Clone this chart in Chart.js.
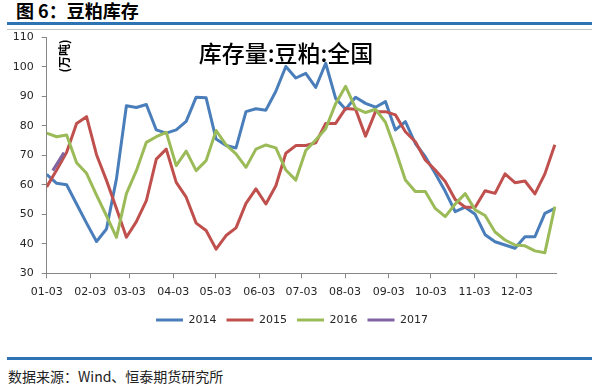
<!DOCTYPE html>
<html>
<head>
<meta charset="utf-8">
<script src="https://cdn.jsdelivr.net/npm/chart.js@4.4.0/dist/chart.umd.min.js"></script>
<style>
  html, body { margin: 0; padding: 0; background: #fff; }
  #page { position: relative; width: 592px; height: 385px; overflow: hidden; font-family: "Noto Sans CJK SC", sans-serif; }
  #chartBox { position: absolute; left: 0; top: 0; width: 592px; height: 350px; }
  .bar { position: absolute; left: 7px; right: 0; }
  .abs { position: absolute; white-space: nowrap; }
  #head { left: 16px; top: 0px; font-size: 18px; line-height: 20px; font-weight: bold; color: #000; }
  #plotTitle { left: 286px; top: 52px; transform: translate(-50%, -50%); font-size: 23px; font-weight: 500; color: #000; }
  #unit { left: 63px; top: 56px; transform: translate(-50%, -50%) rotate(-90deg); font-size: 12px; font-weight: bold; color: #000; }
  #source { left: 8px; top: 376px; transform: translateY(-50%); font-size: 14px; color: #222; }
</style>
</head>
<body>
<div id="page">
  <div class="abs" id="head">图 6：豆粕库存</div>
  <div class="bar" style="top:22px;height:3px;background:#2e74b5;"></div>
  <div class="bar" style="top:29px;height:1px;background:#c4c4c4;"></div>
  <div id="chartBox"><canvas id="stockChart" width="592" height="350"></canvas></div>
  <div class="abs" id="plotTitle">库存量:豆粕:全国</div>
  <div class="abs" id="unit">(万吨)</div>
  <div class="bar" style="top:357px;height:3px;background:#2e74b5;"></div>
  <div class="abs" id="source">数据来源：Wind、恒泰期货研究所</div>
</div>
<script>
// month ticks, in days counted from 01-03
const monthDays = [0, 31, 59, 90, 120, 151, 181, 212, 243, 273, 304, 334];
const monthLabels = ['01-03', '02-03', '03-03', '04-03', '05-03', '06-03',
                     '07-03', '08-03', '09-03', '10-03', '11-03', '12-03'];
const WEEK = 7.08; // weekly samples

const stock2014 = [63.5, 60.5, 60.0, 53.5, 47.0, 40.8, 45.0, 62.0, 86.8, 86.2,
                   87.2, 78.6, 77.5, 78.6, 81.5, 89.7, 89.5, 75.5, 73.3, 72.5,
                   84.8, 85.8, 85.3, 91.7, 100.1, 96.2, 97.8, 93.0, 101.2, 89.3,
                   85.6, 89.7, 87.6, 86.3, 88.2, 78.6, 81.4, 74.0, 69.5, 63.8,
                   57.8, 50.9, 52.4, 50.0, 43.1, 40.7, 39.6, 38.5, 42.4, 42.4,
                   50.3, 52.0];
const stock2015 = [59.3, 65.0, 71.0, 80.8, 83.1, 70.2, 61.5, 52.0, 42.2, 47.5,
                   54.6, 68.7, 72.1, 60.8, 55.8, 47.0, 44.5, 38.2, 42.8, 45.4,
                   53.7, 58.6, 53.5, 59.7, 70.7, 73.3, 73.3, 74.2, 80.8, 80.8,
                   85.9, 85.6, 76.5, 84.8, 84.8, 83.7, 78.0, 74.6, 68.4, 65.0,
                   61.1, 55.0, 52.4, 52.4, 58.0, 57.1, 63.7, 60.7, 61.3, 56.9,
                   63.7, 73.6];
const stock2016 = [77.5, 76.3, 76.9, 67.5, 63.9, 56.5, 49.5, 42.2, 57.0, 64.8,
                   74.4, 76.3, 77.8, 66.5, 71.4, 64.8, 68.2, 78.4, 73.5, 70.5,
                   65.9, 72.1, 73.5, 72.5, 65.0, 61.6, 71.6, 75.2, 79.0, 87.5,
                   93.4, 86.0, 84.5, 85.6, 81.2, 71.8, 61.6, 57.7, 57.7, 52.0,
                   49.2, 53.5, 57.0, 51.5, 49.6, 44.0, 41.3, 39.6, 39.3, 37.6,
                   37.0, 52.6];
const stock2017 = [64.8, 70.9];
const days2017 = [4.3, 12.3];

const toPoints = (vals, days) => vals.map((v, i) => ({ x: days ? days[i] : i * WEEK, y: v }));

function lineSet(label, data, color, order) {
  return {
    label, data, order,
    borderColor: color,
    backgroundColor: color,
    borderWidth: 3,
    pointRadius: 0,
    tension: 0,
    borderJoinStyle: 'round'
  };
}

const axisColor = '#868686';
const tickText = '#262626';

new Chart(document.getElementById('stockChart'), {
  type: 'line',
  data: {
    datasets: [
      lineSet('2014', toPoints(stock2014), '#4a7ebb', 4),
      lineSet('2015', toPoints(stock2015), '#c0504d', 3),
      lineSet('2016', toPoints(stock2016), '#9bbb59', 2),
      lineSet('2017', toPoints(stock2017, days2017), '#8064a2', 1)
    ]
  },
  options: {
    responsive: false,
    animation: false,
    devicePixelRatio: 1,
    layout: { padding: { left: 0, right: 8, top: 37.3, bottom: 14.5 } },
    font: { family: 'DejaVu Sans' },
    plugins: {
      tooltip: { enabled: false },
      legend: {
        position: 'bottom',
        labels: {
          sort: (a, b) => a.datasetIndex - b.datasetIndex,
          usePointStyle: true,
          pointStyle: 'line',
          pointStyleWidth: 27,
          padding: 10,
          color: tickText,
          font: { family: 'DejaVu Sans', size: 11 }
        }
      }
    },
    scales: {
      x: {
        type: 'linear',
        min: 0,
        max: 362.4,
        afterBuildTicks: (scale) => { scale.ticks = monthDays.map(v => ({ value: v })); },
        afterFit: (scale) => { scale.height = 31.2; },
        ticks: {
          autoSkip: false,
          maxRotation: 0,
          padding: 7,
          color: tickText,
          font: { family: 'DejaVu Sans', size: 11 },
          callback: (v, i) => monthLabels[i]
        },
        grid: { drawOnChartArea: false, tickLength: 5, color: axisColor },
        border: { color: axisColor }
      },
      y: {
        min: 30,
        max: 110,
        afterFit: (scale) => { scale.width = 46.7; },
        ticks: {
          stepSize: 10,
          padding: 8,
          color: tickText,
          font: { family: 'DejaVu Sans', size: 11 }
        },
        grid: { drawOnChartArea: false, tickLength: 5, color: axisColor },
        border: { color: axisColor }
      },
      // empty right-hand spacer so the centred legend sits where the reference has it
      spacer: {
        position: 'right',
        min: 0,
        max: 1,
        afterFit: (scale) => { scale.width = 27.3; },
        ticks: { display: false },
        grid: { display: false },
        border: { display: false }
      }
    }
  }
});
</script>
</body>
</html>
